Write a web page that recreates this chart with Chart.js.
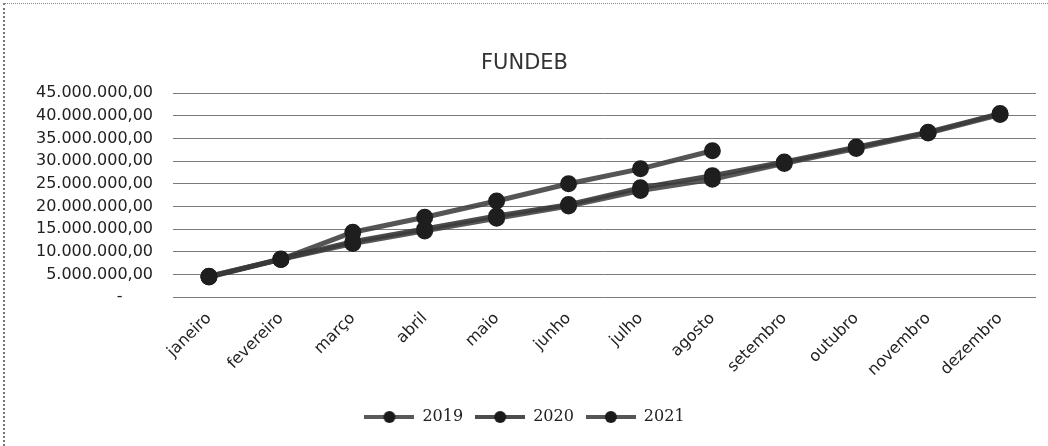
<!DOCTYPE html>
<html>
<head>
<meta charset="utf-8">
<script src="https://cdn.jsdelivr.net/npm/chart.js@4.4.1/dist/chart.umd.min.js"></script>
<style>
  html, body { margin: 0; padding: 0; background: #fff; }
  #wrap { position: relative; width: 1048px; height: 446px; }
  .edge-l { position: absolute; left: 3px; top: 3px; bottom: 0; border-left: 2px dotted #777; }
  .edge-t { position: absolute; left: 3px; top: 3px; right: 0; border-top: 1px dotted #888; }
</style>
</head>
<body>
<div id="wrap">
  <canvas id="chart" width="1048" height="446"></canvas>
  <div class="edge-l"></div>
  <div class="edge-t"></div>
</div>
<script>
// FUNDEB receipts, cumulative per month
const months = ['janeiro', 'fevereiro', 'março', 'abril', 'maio', 'junho',
  'julho', 'agosto', 'setembro', 'outubro', 'novembro', 'dezembro'];
const y2019 = [4600000, 8300000, 11800000, 14600000, 17400000, 20100000,
  23500000, 26000000, 29500000, 32800000, 36200000, 40300000];
const y2020 = [4500000, 8400000, 12200000, 15000000, 17900000, 20400000,
  24100000, 26800000, 29800000, 33100000, 36400000, 40500000];
const y2021 = [4400000, 8300000, 14300000, 17600000, 21200000, 25000000,
  28300000, 32300000];
const yTicks = [0, 5000000, 10000000, 15000000, 20000000, 25000000,
  30000000, 35000000, 40000000, 45000000];

function brl(v) {
  if (v === 0) return '-      ';
  const s = String(Math.round(v)).replace(/\B(?=(\d{3})+(?!\d))/g, '.');
  return s + ',00';
}

// legend swatch: line with a round marker, like the spreadsheet legend
function swatch(color) {
  const c = document.createElement('canvas');
  c.width = 50; c.height = 16;
  const g = c.getContext('2d');
  g.strokeStyle = color; g.lineWidth = 4;
  g.beginPath(); g.moveTo(0, 8); g.lineTo(50, 8); g.stroke();
  g.fillStyle = '#1a1a1a';
  g.beginPath(); g.arc(25, 8, 6, 0, Math.PI * 2); g.fill();
  return c;
}

const series = [
  { label: '2019', data: y2019, color: 'rgba(60,60,60,0.85)' },
  { label: '2020', data: y2020, color: 'rgba(45,45,45,0.85)' },
  { label: '2021', data: y2021, color: 'rgba(55,55,55,0.85)' },
];

new Chart(document.getElementById('chart'), {
  type: 'line',
  data: {
    labels: months,
    datasets: series.map(s => ({
      label: s.label,
      data: s.data,
      borderColor: s.color,
      backgroundColor: s.color,
      borderWidth: 5,
      pointStyle: 'circle',
      pointRadius: 6,
      pointBackgroundColor: '#1e1e1e',
      pointBorderColor: '#1e1e1e',
      tension: 0,
    })),
  },
  options: {
    responsive: false,
    animation: false,
    layout: { padding: { left: 13, right: 12, top: 0, bottom: 11 } },
    plugins: {
      title: {
        display: true,
        text: 'FUNDEB',
        color: '#333',
        font: { family: 'DejaVu Sans', size: 21, weight: 'normal' },
        padding: { top: 51, bottom: 17 },
      },
      legend: {
        position: 'bottom',
        labels: {
          usePointStyle: true,
          pointStyleWidth: 50,
          boxHeight: 16,
          color: '#222',
          font: { family: 'DejaVu Serif', size: 16 },
          padding: 12,
          generateLabels: chart => {
            const items = Chart.defaults.plugins.legend.labels.generateLabels(chart);
            items.forEach((it, i) => { it.pointStyle = swatch(series[i].color); });
            return items;
          },
        },
      },
      tooltip: { enabled: false },
    },
    scales: {
      x: {
        offset: true,
        grid: { display: false },
        border: { display: false },
        ticks: {
          color: '#222',
          font: { family: 'DejaVu Sans', size: 16 },
          minRotation: 45,
          maxRotation: 45,
          autoSkip: false,
          padding: 4,
        },
        afterFit: s => { s.height = 100; },
      },
      y: {
        min: 0,
        max: 45000000,
        afterBuildTicks: s => { s.ticks = yTicks.map(v => ({ value: v })); },
        grid: { color: '#7a7a7a', lineWidth: 1, drawTicks: false },
        border: { display: false },
        ticks: {
          color: '#222',
          font: { family: 'DejaVu Sans', size: 16 },
          autoSkip: false,
          padding: 20,
          callback: v => brl(v),
        },
        afterFit: s => { s.width = 160; },
      },
    },
  },
});
</script>
</body>
</html>
